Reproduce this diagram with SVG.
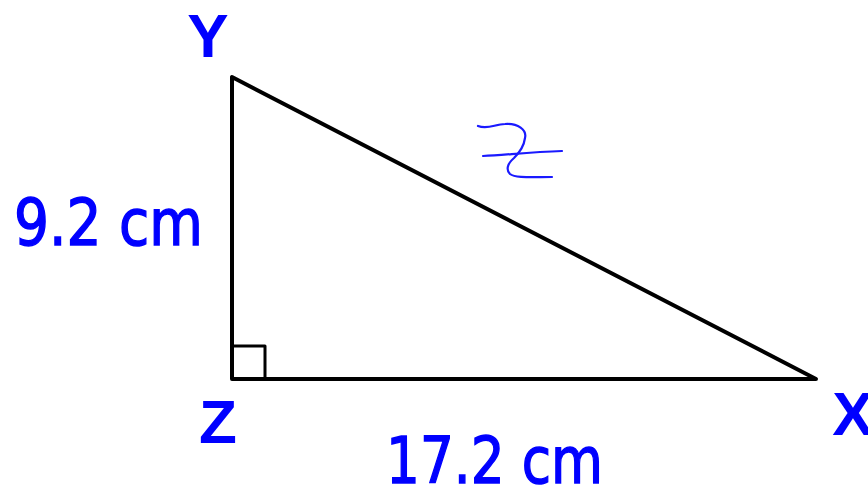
<svg xmlns="http://www.w3.org/2000/svg" width="868" height="489" viewBox="0 0 868 489">
<style>
.edge{fill:none;stroke:#000;stroke-width:4;stroke-linejoin:round}
.vl{font-family:"Liberation Sans",Arial,sans-serif;font-weight:bold;font-size:62px;fill:#0000ff;text-anchor:middle}
.len{font-family:"DejaVu Sans","Liberation Sans",sans-serif;font-size:64px;fill:#0000ff;stroke:#0000ff;stroke-width:1.5}
.hand{fill:none;stroke:#1a1aff;stroke-width:2.2;stroke-linecap:round}
</style>
<rect width="868" height="489" fill="#fff"/>
<g id="triangle">
<path class="edge" d="M232,77 L232,379 L816,379 Z"/>
<path class="edge" d="M232,346 L265,346 L265,379" style="stroke-width:3"/>
</g>
<g id="Y"><text class="vl" x="208" y="57">Y</text></g>
<g id="Z"><text class="vl" x="218" y="443">Z</text></g>
<g id="X"><text class="vl" x="853" y="435">X</text></g>
<g id="side-YZ"><text class="len" x="14" y="245" textLength="189" lengthAdjust="spacingAndGlyphs">9.2 cm</text></g>
<g id="side-ZX"><text class="len" x="386" y="483" textLength="217" lengthAdjust="spacingAndGlyphs">17.2 cm</text></g>
<g id="hyp-mark">
<path class="hand" d="M478,126 C488,130 495,124 505,124 C518,123 527,130 525,138 C524,146 520,152 514,158 C507,164 506,170 510,174 C515,178 530,177 552,177"/>
<path class="hand" d="M483,156 C505,155 530,152 562,151"/>
</g>
</svg>
